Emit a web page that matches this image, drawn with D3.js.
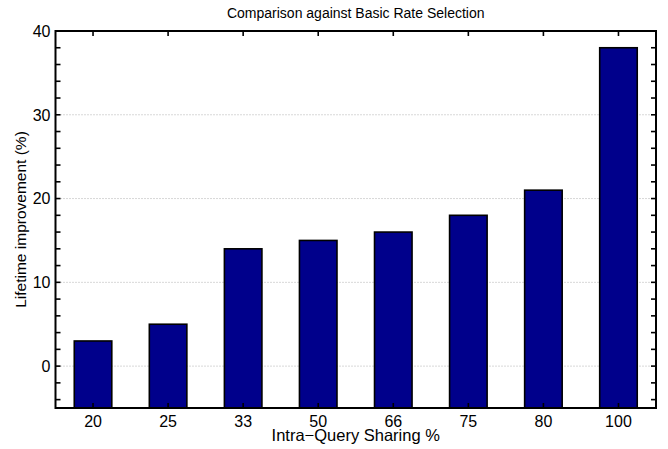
<!DOCTYPE html>
<html><head><meta charset="utf-8">
<script src="https://cdn.jsdelivr.net/npm/d3@7"></script>
<style>body{margin:0;background:#fff}svg{display:block}text{font-family:"Liberation Sans",Arial,sans-serif;fill:#000}</style>
</head><body><svg id="c" width="668" height="449"></svg>
<script>
const categories = ["20","25","33","50","66","75","80","100"];
const values = [3,5,14,15,16,18,21,38];
const yTickLabels = [0,10,20,30,40];
const yMinorTicks = [-4,-2,0,2,4,6,8,10,12,14,16,18,20,22,24,26,28,30,32,34,36,38,40];
const title = "Comparison against Basic Rate Selection";
const xLabel = "Intra\u2212Query Sharing %";
const yLabel = "Lifetime improvement (%)";

const L=55.5, R=656, T=31, B=408;
const svg = d3.select("#c");
const x = d3.scaleBand().domain(categories).range([L,R]).paddingInner(0).paddingOuter(0);
const y = d3.scaleLinear().domain([-5,40]).range([B,T]);
const bw = x.bandwidth()*0.5;

// grid
svg.append("g").selectAll("line").data(yTickLabels.filter(d=>d<40)).join("line")
  .attr("x1",L+2).attr("x2",R-2).attr("y1",d=>y(d)).attr("y2",d=>y(d))
  .attr("stroke","#b0b0b0").attr("stroke-width",1).attr("stroke-dasharray","1,2");

// bars
svg.append("g").selectAll("rect").data(values).join("rect")
  .attr("x",(d,i)=>x(categories[i])+x.bandwidth()/2-bw/2)
  .attr("width",bw)
  .attr("y",d=>y(d))
  .attr("height",d=>y(-5)-y(d))
  .attr("fill","#00008b").attr("stroke","#000").attr("stroke-width",1.6);

// axes
const ax = svg.append("g");
ax.append("rect").attr("x",L).attr("y",T).attr("width",R-L).attr("height",B-T)
  .attr("fill","none").attr("stroke","#000").attr("stroke-width",2);
const tl=5;
ax.selectAll(".yl").data(yMinorTicks).join("line")
  .attr("x1",L).attr("x2",L+tl).attr("y1",d=>y(d)).attr("y2",d=>y(d)).attr("stroke","#000").attr("stroke-width",1.6);
ax.selectAll(".yr").data(yMinorTicks).join("line").attr("class","yr")
  .attr("x1",R).attr("x2",R-tl).attr("y1",d=>y(d)).attr("y2",d=>y(d)).attr("stroke","#000").attr("stroke-width",1.6);
ax.selectAll(".xt").data(categories).join("line").attr("class","xt")
  .attr("x1",d=>x(d)+x.bandwidth()/2).attr("x2",d=>x(d)+x.bandwidth()/2).attr("y1",T).attr("y2",T+tl).attr("stroke","#000").attr("stroke-width",1.6);
ax.selectAll(".xb").data(categories).join("line").attr("class","xb")
  .attr("x1",d=>x(d)+x.bandwidth()/2).attr("x2",d=>x(d)+x.bandwidth()/2).attr("y1",B).attr("y2",B-tl).attr("stroke","#000").attr("stroke-width",1.6);

// labels
svg.selectAll(".ytl").data(yTickLabels).join("text").attr("class","ytl")
  .attr("x",L-5).attr("y",d=>y(d)).attr("dy","0.36em").attr("text-anchor","end")
  .attr("font-size",16).text(d=>d);
svg.selectAll(".xtl").data(categories).join("text").attr("class","xtl")
  .attr("x",d=>x(d)+x.bandwidth()/2).attr("y",B+19).attr("text-anchor","middle")
  .attr("font-size",16).text(d=>d);
svg.append("text").attr("x",(L+R)/2).attr("y",18).attr("text-anchor","middle").attr("font-size",14).text(title);
svg.append("text").attr("x",(L+R)/2).attr("y",441).attr("text-anchor","middle").attr("font-size",16.5).text(xLabel);
svg.append("text").attr("transform",`translate(26,${(T+B)/2}) rotate(-90)`).attr("text-anchor","middle").attr("font-size",15.5).text(yLabel);
</script></body></html>
